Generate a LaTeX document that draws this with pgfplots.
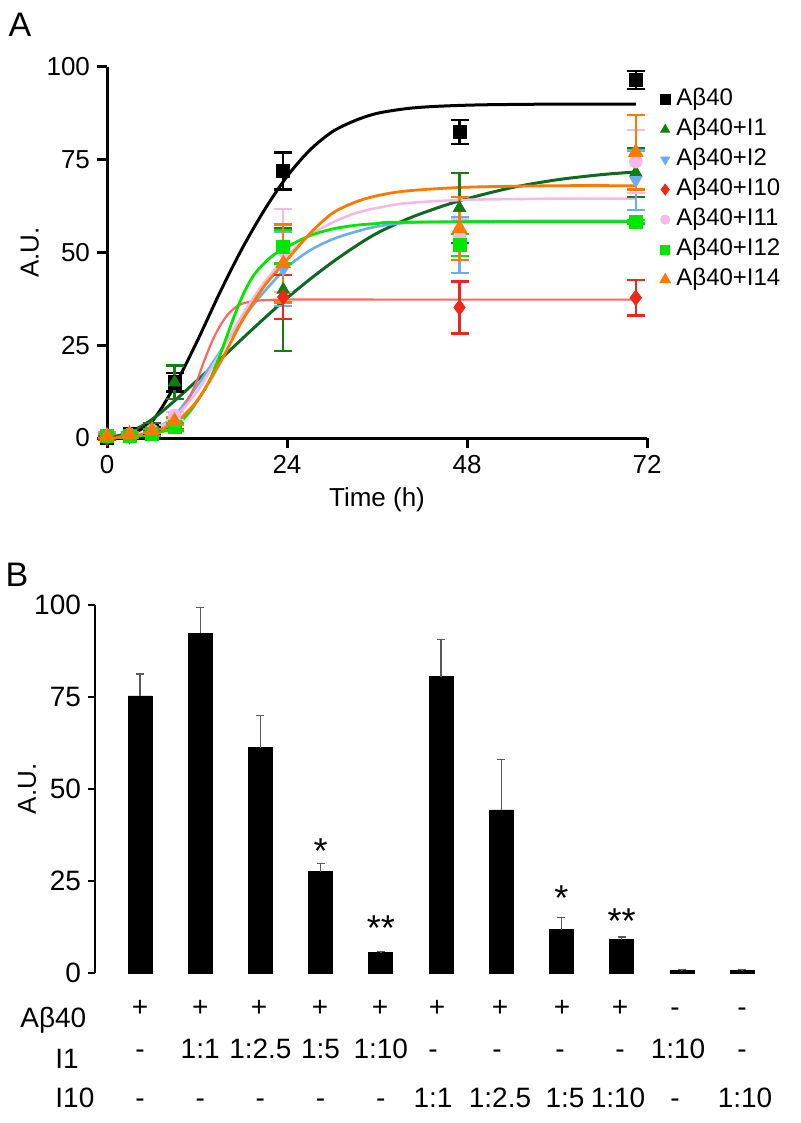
\documentclass[border=0pt]{standalone}
\usepackage{pgfplots}
\pgfplotsset{compat=1.18}
\usepackage{fontspec}
\setmainfont{Liberation Sans}
\definecolor{dgreen}{RGB}{20,125,20}
\definecolor{dgreenline}{RGB}{15,105,35}
\definecolor{lblue}{RGB}{105,175,240}
\definecolor{cred}{RGB}{235,40,25}
\definecolor{credline}{RGB}{250,105,95}
\definecolor{cpink}{RGB}{245,185,230}
\definecolor{bgreen}{RGB}{0,230,0}
\definecolor{corange}{RGB}{255,120,0}
\definecolor{ebgray}{RGB}{90,90,90}
\begin{document}
\begin{tikzpicture}
\useasboundingbox (0pt,0pt) rectangle (400pt,-561.5pt);
\node[font=\fontsize{17}{17}\selectfont] at (10pt,-12.5pt) {A};
\node[font=\fontsize{17}{17}\selectfont] at (8.5pt,-287.5pt) {B};
% ---------------- Panel A ----------------
\begin{axis}[
  at={(53.5pt,-219pt)}, anchor=south west,
  scale only axis, width=270pt, height=185.5pt,
  xmin=0, xmax=72, ymin=0, ymax=100,
  axis x line*=bottom, axis y line*=left,
  axis line style={line width=1.5pt, -},
  xtick={0,24,48,72}, ytick={0,25,50,75,100},
  tick align=outside, major tick length=5pt,
  tick style={line width=1.5pt, black},
  /pgf/number format/assume math mode=true,
  ticklabel style={font=\fontsize{13}{13}\selectfont},
  xlabel={Time (h)}, ylabel={A.U.},
  label style={font=\fontsize{13}{13}\selectfont},
  xlabel style={at={(axis description cs:0.5,0)}, anchor=center, yshift=-31pt},
  ylabel style={at={(axis description cs:-0.143,0.5)}, anchor=center},
  clip=false,
  legend style={draw=none, fill=none, inner sep=0pt, outer sep=0pt,
    anchor=north west, at={(axis description cs:1.024,0.9445)},
    font=\fontsize{12}{14}\selectfont, row sep=3pt, column sep=3pt,
    nodes={inner sep=0pt, text height=9pt, text depth=3pt}},
  legend cell align=left,
  legend image code/.code={\draw[mark repeat=2,mark phase=2,#1,/tikz/every mark/.append style={scale=0.72}] plot coordinates {(0pt,0pt) (5pt,0pt) (10pt,0pt)};},
]
% fitted curves
\addplot[black, line width=1.5pt, smooth, forget plot] coordinates {(0,0.3) (3,1) (6,4.5) (9,14) (12,26) (15,39) (18,51) (21,61.5) (24,70.5) (27,77.5) (30,82.5) (33,85.5) (36,87.5) (40,88.8) (44,89.4) (50,89.8) (60,90) (70.5,90)};
\addplot[dgreenline, line width=1.5pt, smooth, forget plot] coordinates {(0,0) (3,1.5) (6,5) (9,10) (12,15.5) (15,21) (18,26.7) (21,32.3) (24,37.7) (27,42.7) (30,47.3) (33,51.5) (36,55.2) (40,59) (44,62) (48,64.5) (54,67.5) (60,69.6) (66,71) (70.5,71.7)};
\addplot[lblue, line width=1.3pt, smooth, forget plot] coordinates {(0,0) (3,0.5) (6,2) (9,6) (12,14) (15,23) (18,32) (21,39.5) (24,46) (27,50.5) (30,53.5) (33,55.5) (36,57) (40,58) (48,58.4) (60,58.5) (70.5,58.5)};
\addplot[credline, line width=1.1pt, smooth, forget plot] coordinates {(0,0) (3,0.3) (6,1.5) (9,5) (10,7.5) (11,11) (12,15.5) (13,21) (14,26) (15,30) (16,33) (17,35) (18,36.2) (20,37) (24,37.3) (40,37.3) (70.5,37.3)};
\addplot[cpink, line width=1.3pt, smooth, forget plot] coordinates {(0,0) (3,0.5) (6,2) (9,5.5) (12,12.5) (15,22.5) (18,33) (21,42) (24,49) (27,54.5) (30,58) (33,60.5) (36,62) (40,63.3) (48,64.2) (60,64.5) (70.5,64.5)};
\addplot[bgreen, line width=1.4pt, smooth, forget plot] coordinates {(0,0) (3,0.3) (6,1) (9,3) (11,7) (13,13) (14,17) (15,22) (16,27.5) (17,33) (18,38) (19,42) (20,45) (22,49) (24,51.5) (27,54.5) (30,56.3) (33,57.3) (36,57.8) (40,58.2) (70.5,58.3)};
\addplot[corange, line width=1.4pt, smooth, forget plot] coordinates {(0,0) (3,0.5) (6,1.5) (9,4) (12,10) (15,20) (18,31.5) (21,41) (24,48) (27,55) (30,60.5) (33,63.5) (36,65.3) (40,66.6) (48,67.6) (60,68) (70.5,68)};
% data points
\addplot[only marks, mark=square*, mark size=3.3pt, black,
  error bars/.cd, y dir=both, y explicit,
  error bar style={line width=1.2pt, black},
  error mark options={rotate=90, mark size=4.5pt, line width=1.2pt, black}]
  coordinates {(0,0)+-(0,0.5) (3,1)+-(0,0.5) (6,2)+-(0,0.8) (9,15)+-(0,2.5) (23.5,72)+-(0,5) (47,82.5)+-(0,3.2) (70.5,96.5)+-(0,2.5)};
\addlegendentry{Aβ40}
\addplot[only marks, mark=triangle*, mark size=3.6pt, dgreen,
  error bars/.cd, y dir=both, y explicit,
  error bar style={line width=1.2pt, dgreen},
  error mark options={rotate=90, mark size=4.5pt, line width=1.2pt, dgreen}]
  coordinates {(0,0.5)+-(0,0.5) (3,1)+-(0,0.5) (6,3)+-(0,1) (9,15)+-(0,4.5) (23.5,40)+-(0,16.5) (47,62)+-(0,9.5) (70.5,71.5)+-(0,6.5)};
\addlegendentry{Aβ40+I1}
\addplot[only marks, mark=triangle*, mark options={rotate=180}, mark size=3.6pt, lblue,
  error bars/.cd, y dir=both, y explicit,
  error bar style={line width=1.2pt, lblue},
  error mark options={rotate=90, mark size=4.5pt, line width=1.2pt, lblue}]
  coordinates {(0,1)+-(0,0.5) (3,1)+-(0,0.5) (6,2)+-(0,0.5) (9,6)+-(0,1) (23.5,45.5)+-(0,10) (47,52)+-(0,7.5) (70.5,69.5)+-(0,8)};
\addlegendentry{Aβ40+I2}
\addplot[only marks, mark=diamond*, mark size=3.8pt, cred,
  error bars/.cd, y dir=both, y explicit,
  error bar style={line width=1.2pt, cred},
  error mark options={rotate=90, mark size=4.5pt, line width=1.2pt, cred}]
  coordinates {(0,0)+-(0,0.5) (3,0.5)+-(0,0.5) (6,2)+-(0,0.5) (9,4)+-(0,1.5) (23.5,38)+-(0,6) (47,35.2)+-(0,7) (70.5,37.8)+-(0,4.8)};
\addlegendentry{Aβ40+I10}
\addplot[only marks, mark=*, mark size=3.2pt, cpink,
  error bars/.cd, y dir=both, y explicit,
  error bar style={line width=1.2pt, cpink},
  error mark options={rotate=90, mark size=4.5pt, line width=1.2pt, cpink}]
  coordinates {(0,0.5)+-(0,0.5) (3,1)+-(0,0.5) (6,2)+-(0,0.5) (9,6)+-(0,1) (23.5,50.5)+-(0,11.2) (47,54)+-(0,5) (70.5,74.5)+-(0,8.5)};
\addlegendentry{Aβ40+I11}
\addplot[only marks, mark=square*, mark size=3.2pt, bgreen,
  error bars/.cd, y dir=both, y explicit,
  error bar style={line width=1.2pt, bgreen},
  error mark options={rotate=90, mark size=4.5pt, line width=1.2pt, bgreen}]
  coordinates {(0,0.5)+-(0,0.5) (3,0.5)+-(0,0.5) (6,1)+-(0,0.5) (9,3)+-(0,1) (23.5,51.5)+-(0,4.5) (47,52)+-(0,3) (70.5,58.3)+-(0,0.5)};
\addlegendentry{Aβ40+I12}
\addplot[only marks, mark=triangle*, mark size=4.2pt, corange,
  error bars/.cd, y dir=both, y explicit,
  error bar style={line width=1.2pt, corange},
  error mark options={rotate=90, mark size=4.5pt, line width=1.2pt, corange}]
  coordinates {(0,0.5)+-(0,0.5) (3,1)+-(0,0.5) (6,2)+-(0,0.5) (9,4.5)+-(0,1) (23.5,47)+-(0,10.5) (47,56.5)+-(0,8.5) (70.5,77)+-(0,10)};
\addlegendentry{Aβ40+I14}
\end{axis}
% ---------------- Panel B ----------------
\begin{axis}[
  at={(47.5pt,-486.5pt)}, anchor=south west,
  scale only axis, width=337.7pt, height=184pt,
  xmin=0.252, xmax=11.47, ymin=0, ymax=100,
  axis y line*=left, axis x line=none,
  axis line style={line width=0.7pt, -},
  ytick={0,25,50,75,100},
  tick align=outside, major tick length=3.5pt,
  tick style={line width=0.7pt, black},
  /pgf/number format/assume math mode=true,
  yticklabel style={font=\fontsize{14}{14}\selectfont},
  ylabel={A.U.},
  ylabel style={font=\fontsize{13}{13}\selectfont, at={(axis description cs:-0.1007,0.5)}, anchor=center},
  clip=false,
]
\addplot[ybar, bar width=12pt, fill=black, draw=black, line width=0.4pt,
  error bars/.cd, y dir=plus, y explicit,
  error bar style={line width=0.7pt, ebgray},
  error mark options={rotate=90, mark size=2pt, line width=0.7pt, ebgray}]
  coordinates {(1,75.3)+-(0,6) (2,92.3)+-(0,7) (3,61.2)+-(0,8.8) (4,27.5)+-(0,2.3) (5,5.5)+-(0,0.3) (6,80.5)+-(0,10.2) (7,44.3)+-(0,13.8) (8,11.8)+-(0,3.3) (9,9.0)+-(0,0.8) (10,0.6)+-(0,0.3) (11,0.6)+-(0,0.3)};
\node[font=\fontsize{18}{18}\selectfont, anchor=north, inner sep=0pt] at (axis cs:4,36.7) {*};
\node[font=\fontsize{18}{18}\selectfont, anchor=north, inner sep=0pt] at (axis cs:5,15.8) {**};
\node[font=\fontsize{18}{18}\selectfont, anchor=north, inner sep=0pt] at (axis cs:8,23.9) {*};
\node[font=\fontsize{18}{18}\selectfont, anchor=north, inner sep=0pt] at (axis cs:9,17.7) {**};
\end{axis}
% ---------------- table below panel B ----------------
\begin{scope}[every node/.style={font=\fontsize{14}{14}\selectfont, anchor=base, inner sep=0pt}]
\node[anchor=base west] at (10pt,-513.5pt) {Aβ40};
\node[anchor=base west] at (27.5pt,-534pt) {I1};
\node[anchor=base west] at (27.5pt,-553.5pt) {I10};
% row Abeta40
\foreach \x/\t in {70/+,100.1/+,129.5/+,160/+,190/+,218.5/+,250/+,281/+,310/+,337.5/-,371/-}
  \node at (\x pt,-508.2pt) {\t};
% row I1
\foreach \x/\t in {70/-,100.1/1:1,130.2/1:2.5,160.3/1:5,190.4/1:10,216.5/-,248.5/-,280/-,310/-,339/1:10,371/-}
  \node at (\x pt,-529pt) {\t};
% row I10
\foreach \x/\t in {70/-,100.1/-,130.2/-,160.3/-,190.4/-,216.5/1:1,250/1:2.5,282.5/1:5,309/1:10,337.5/-,372.5/1:10}
  \node at (\x pt,-553.5pt) {\t};
\end{scope}
\end{tikzpicture}
\end{document}
